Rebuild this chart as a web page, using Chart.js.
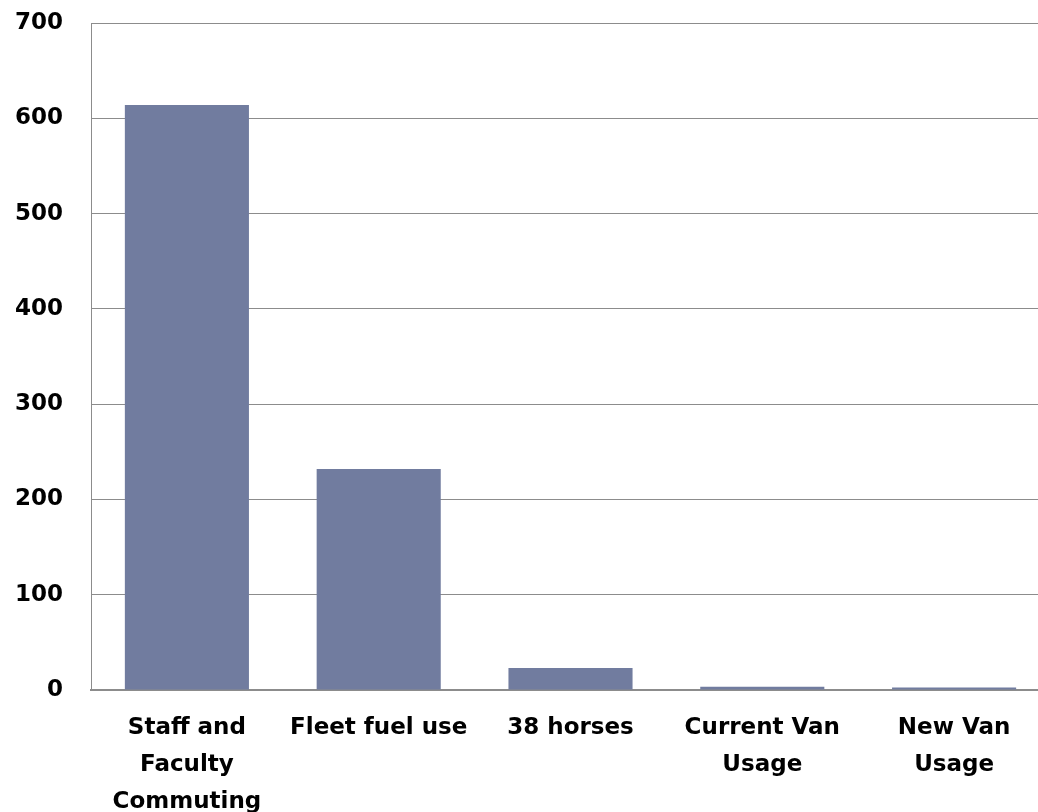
<!DOCTYPE html>
<html>
<head>
<meta charset="utf-8">
<script src="https://cdn.jsdelivr.net/npm/chart.js@4"></script>
<style>
    html, body { margin: 0; padding: 0; background: #fff; overflow: hidden; }
    /* the original plot runs a little past the right edge, so the canvas is wider and clipped */
    #clip { width: 1038px; height: 812px; overflow: hidden; }
    #wrap { width: 1050px; height: 812px; }
</style>
</head>
<body>
<div id="clip"><div id="wrap"><canvas id="chart"></canvas></div></div>
<script>
    var categories = [
        ["Staff and", "Faculty", "Commuting"],
        "Fleet fuel use",
        "38 horses",
        ["Current Van", "Usage"],
        ["New Van", "Usage"]
    ];
    var values = [614, 232, 23, 3.5, 2.5];
    var tickStep = 100;
    var yMax = 700;

    var yFont = { family: "'DejaVu Sans', sans-serif", size: 23, weight: "bold" };
    var xFont = { family: "'DejaVu Sans', sans-serif", size: 23, weight: "bold", lineHeight: 1.6 };

    var canvas = document.getElementById("chart");

    var chart = new Chart(canvas, {
        type: "bar",
        data: {
            labels: categories,
            datasets: [{
                data: values,
                backgroundColor: "#717c9f",
                borderWidth: 0,
                categoryPercentage: 0.647,
                barPercentage: 1
            }]
        },
        options: {
            responsive: true,
            maintainAspectRatio: false,
            animation: false,
            layout: { padding: 0 },
            plugins: {
                legend: { display: false },
                tooltip: { enabled: false }
            },
            scales: {
                x: {
                    grid: { display: false, drawTicks: false },
                    border: { color: "#8c8c8c", width: 2 },
                    ticks: {
                        color: "#000",
                        font: xFont,
                        padding: 20,
                        maxRotation: 0,
                        autoSkip: false
                    },
                    afterFit: function (scale) {
                        scale.paddingLeft = 0;
                        scale.paddingRight = 0;
                        scale.height = 122;
                    }
                },
                y: {
                    min: 0,
                    max: yMax,
                    grid: { color: "#8c8c8c", lineWidth: 1, drawTicks: false },
                    border: { color: "#8c8c8c", width: 1 },
                    ticks: {
                        stepSize: tickStep,
                        color: "#000",
                        font: yFont,
                        padding: 28
                    },
                    afterFit: function (scale) {
                        scale.paddingTop = 23;
                        scale.paddingBottom = 0;
                        scale.width = 91;
                    }
                }
            }
        }
    });
</script>
</body>
</html>
